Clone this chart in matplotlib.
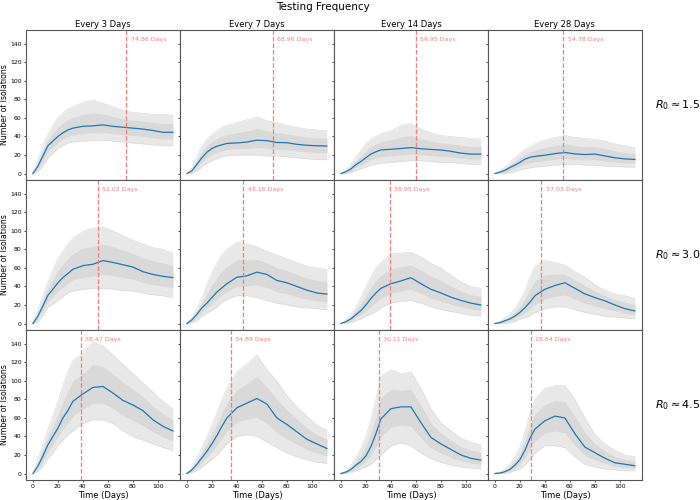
import numpy as np
import matplotlib
matplotlib.use('Agg')
import matplotlib.pyplot as plt

# sample days used for every curve
days = [0, 4, 8, 12, 16, 20, 24, 28, 32, 40, 48, 56, 64, 72, 80, 88, 96, 104, 112]

frequencies = ['Every 3 Days', 'Every 7 Days', 'Every 14 Days', 'Every 28 Days']
r0_labels = [r'$R_0 \approx 1.5$', r'$R_0 \approx 3.0$', r'$R_0 \approx 4.5$']

# day marked with the dashed red line
marker_days = [[74.86, 68.96, 59.95, 54.78],
               [52.02, 45.16, 38.95, 37.03],
               [38.47, 34.89, 30.11, 28.64]]

# mean number of isolations (blue)
mean_r15 = [[0, 8, 19, 30, 35, 40, 44, 47, 49, 51, 51.5, 52.5, 51, 50, 49, 48, 46.5, 44.5, 44.5],
            [0, 3, 10, 17, 23, 27, 29.5, 31, 32.5, 33, 34, 36, 35.5, 33.5, 33.3, 31.5, 30.5, 30, 29.7],
            [0, 2, 5, 9.5, 13, 17, 21, 23.5, 25.5, 26.2, 27, 28, 26.8, 26, 25.4, 24, 22, 21, 21],
            [0, 1.5, 3.5, 6.5, 9, 12, 15.5, 17.5, 18.5, 19.8, 21.5, 22.7, 21.2, 20.5, 21, 19, 17, 15.8, 15.2]]
mean_r30 = [[0, 8, 19, 30.5, 37, 44, 49.6, 54, 58.6, 62.5, 64, 68, 66, 63.5, 61, 56, 53, 51, 49.6],
            [0, 4, 10, 17, 22, 28, 34, 38.5, 43, 50, 51.5, 55.5, 53, 46.5, 44, 40, 36, 33, 31.8],
            [0, 2, 5, 9.5, 14, 20, 27, 33, 38, 43, 46, 49.5, 43, 37, 33, 28.5, 25, 22, 20],
            [0, 1, 3, 5, 8, 12, 17, 23, 30, 37, 41, 44, 38, 32, 28, 24.5, 20, 16, 13.6]]
mean_r45 = [[0, 8, 19, 31, 40, 49, 60, 68, 78, 86, 93, 94, 87, 79, 74, 68, 58, 51, 46],
            [0, 4, 10, 17, 24, 32, 41, 51, 60, 71, 76, 81, 75, 60, 53, 45, 37, 32, 27],
            [0, 1.5, 4.5, 9, 13, 19, 29, 43, 59, 70, 72, 72, 55, 39, 32, 26, 20, 16.4, 14.5],
            [0, 0.5, 2, 4.5, 9, 15, 25, 38, 48, 57, 62, 60, 43, 28.5, 22.5, 16.5, 11.6, 10, 8.4]]

# upper / lower edge of the grey cloud of simulation runs
high_r15 = [[0, 15, 30, 42, 52, 60, 65, 70, 72, 77, 79, 76, 72, 68, 66, 65, 64, 64, 63],
            [0, 6, 18, 30, 37, 42, 46, 50, 52, 55, 58, 61, 57, 55, 52, 50, 48, 47, 46],
            [0, 4, 10, 18, 25, 32, 37, 40, 43, 46, 52, 54, 48, 44, 41, 40, 39, 38, 37],
            [0, 3, 7, 12, 17, 22, 26, 29, 32, 36, 39, 41, 39, 38, 37, 35, 32, 30, 28]]
low_r15 = [[0, 2, 8, 17, 22, 27, 30, 33, 34, 35, 36, 36, 35, 34, 33, 32, 31, 30, 30],
           [0, 0, 3, 7, 11, 14, 16, 18, 19, 20, 20, 20, 19, 19, 18, 17, 16, 15, 15],
           [0, 0, 1, 3, 5, 7, 9, 10, 11, 12, 13, 14, 14, 13, 12, 12, 11, 10, 10],
           [0, 0, 0, 1, 2, 4, 5, 6, 7, 8, 9, 10, 10, 9, 9, 8, 8, 7, 7]]
high_r30 = [[0, 15, 30, 45, 58, 70, 78, 86, 92, 100, 103, 104, 100, 95, 90, 86, 82, 80, 76],
            [0, 7, 16, 28, 42, 55, 65, 74, 80, 88, 86, 83, 78, 74, 70, 66, 62, 60, 58],
            [0, 4, 10, 18, 28, 40, 50, 60, 66, 75, 76, 77, 72, 65, 60, 52, 45, 40, 38],
            [0, 2, 6, 10, 16, 25, 35, 50, 62, 68, 66, 63, 56, 50, 42, 36, 32, 30, 27]]
low_r30 = [[0, 2, 8, 18, 21, 25, 29, 33, 35, 37, 38, 38, 37, 36, 35, 33, 31, 30, 28],
           [0, 1, 3, 8, 11, 14, 18, 23, 26, 30, 30, 28, 25, 22, 20, 18, 17, 16, 15],
           [0, 0, 1, 3, 5, 8, 10, 13, 17, 22, 24, 25, 22, 18, 15, 13, 11, 9, 8],
           [0, 0, 0, 1, 2, 5, 6, 8, 12, 16, 18, 18, 15, 12, 10, 8, 7, 6, 5]]
high_r45 = [[0, 15, 32, 48, 62, 78, 95, 110, 122, 130, 142, 138, 128, 118, 108, 98, 88, 78, 70],
            [0, 7, 16, 28, 40, 52, 66, 80, 92, 110, 118, 128, 112, 100, 84, 72, 62, 52, 47],
            [0, 3, 9, 17, 27, 40, 58, 80, 105, 112, 108, 110, 92, 70, 55, 46, 38, 34, 31],
            [0, 2, 5, 10, 18, 28, 45, 65, 80, 92, 95, 95, 80, 60, 42, 32, 25, 20, 18]]
low_r45 = [[0, 2, 8, 16, 22, 30, 36, 42, 46, 54, 58, 58, 54, 46, 40, 36, 32, 28, 25],
           [0, 1, 3, 7, 11, 15, 20, 26, 32, 40, 42, 40, 34, 28, 22, 18, 15, 12, 11],
           [0, 0, 1, 3, 5, 7, 10, 15, 20, 30, 33, 30, 22, 16, 12, 9, 7, 6, 5],
           [0, 0, 0, 1, 3, 5, 9, 15, 22, 30, 30, 28, 18, 10, 7, 5, 4, 3, 3]]

means = [mean_r15, mean_r30, mean_r45]
highs = [high_r15, high_r30, high_r45]
lows = [low_r15, low_r30, low_r45]

fig, axes = plt.subplots(3, 4, figsize=(7, 5), dpi=100, sharex=True, sharey=True)
fig.subplots_adjust(left=0.037, right=0.917, bottom=0.04, top=0.94, wspace=0, hspace=0)

t = np.array(days)
for i in range(3):
    for j in range(4):
        ax = axes[i, j]
        m = np.array(means[i][j])
        hi = np.array(highs[i][j])
        lo = np.array(lows[i][j])
        ax.fill_between(t, lo, hi, color='#e8e8e8', lw=0)
        ax.fill_between(t, (lo + m) / 2, (hi + m) / 2, color='#d9d9d9', lw=0)
        ax.plot(t, hi, color='#d6d6d6', lw=0.4)
        ax.plot(t, lo, color='#d6d6d6', lw=0.4)
        ax.plot(t, m, color='#1f77b4', lw=0.9)
        d = marker_days[i][j]
        ax.axvline(d, color='#f08080', ls='--', lw=0.9)
        ax.text(d + 3.5, 145, '%.2f Days' % d, color='#f08080', fontsize=4.5, va='center')
        ax.tick_params(labelsize=4.4, length=1.5, width=0.5, pad=1.5)
        for s in ax.spines.values():
            s.set_color('#555555')
            s.set_linewidth(0.8)
        if i == 0:
            ax.set_title(frequencies[j], fontsize=6, pad=2)
        if j == 0:
            ax.set_ylabel('Number of Isolations', fontsize=5.6, labelpad=1)
        if i == 2:
            ax.set_xlabel('Time (Days)', fontsize=6, labelpad=1)
    fig.text(0.936, axes[i, 3].get_position().y0 + 0.15, r0_labels[i], fontsize=8, va='center')

axes[0, 0].set_xlim(-5.6, 117.6)
axes[0, 0].set_ylim(-7, 155)
axes[0, 0].set_yticks([0, 20, 40, 60, 80, 100, 120, 140])
axes[0, 0].set_xticks([0, 20, 40, 60, 80, 100])

fig.suptitle('Testing Frequency', fontsize=7.5, x=0.462, y=0.995)

plt.savefig('out.png')
